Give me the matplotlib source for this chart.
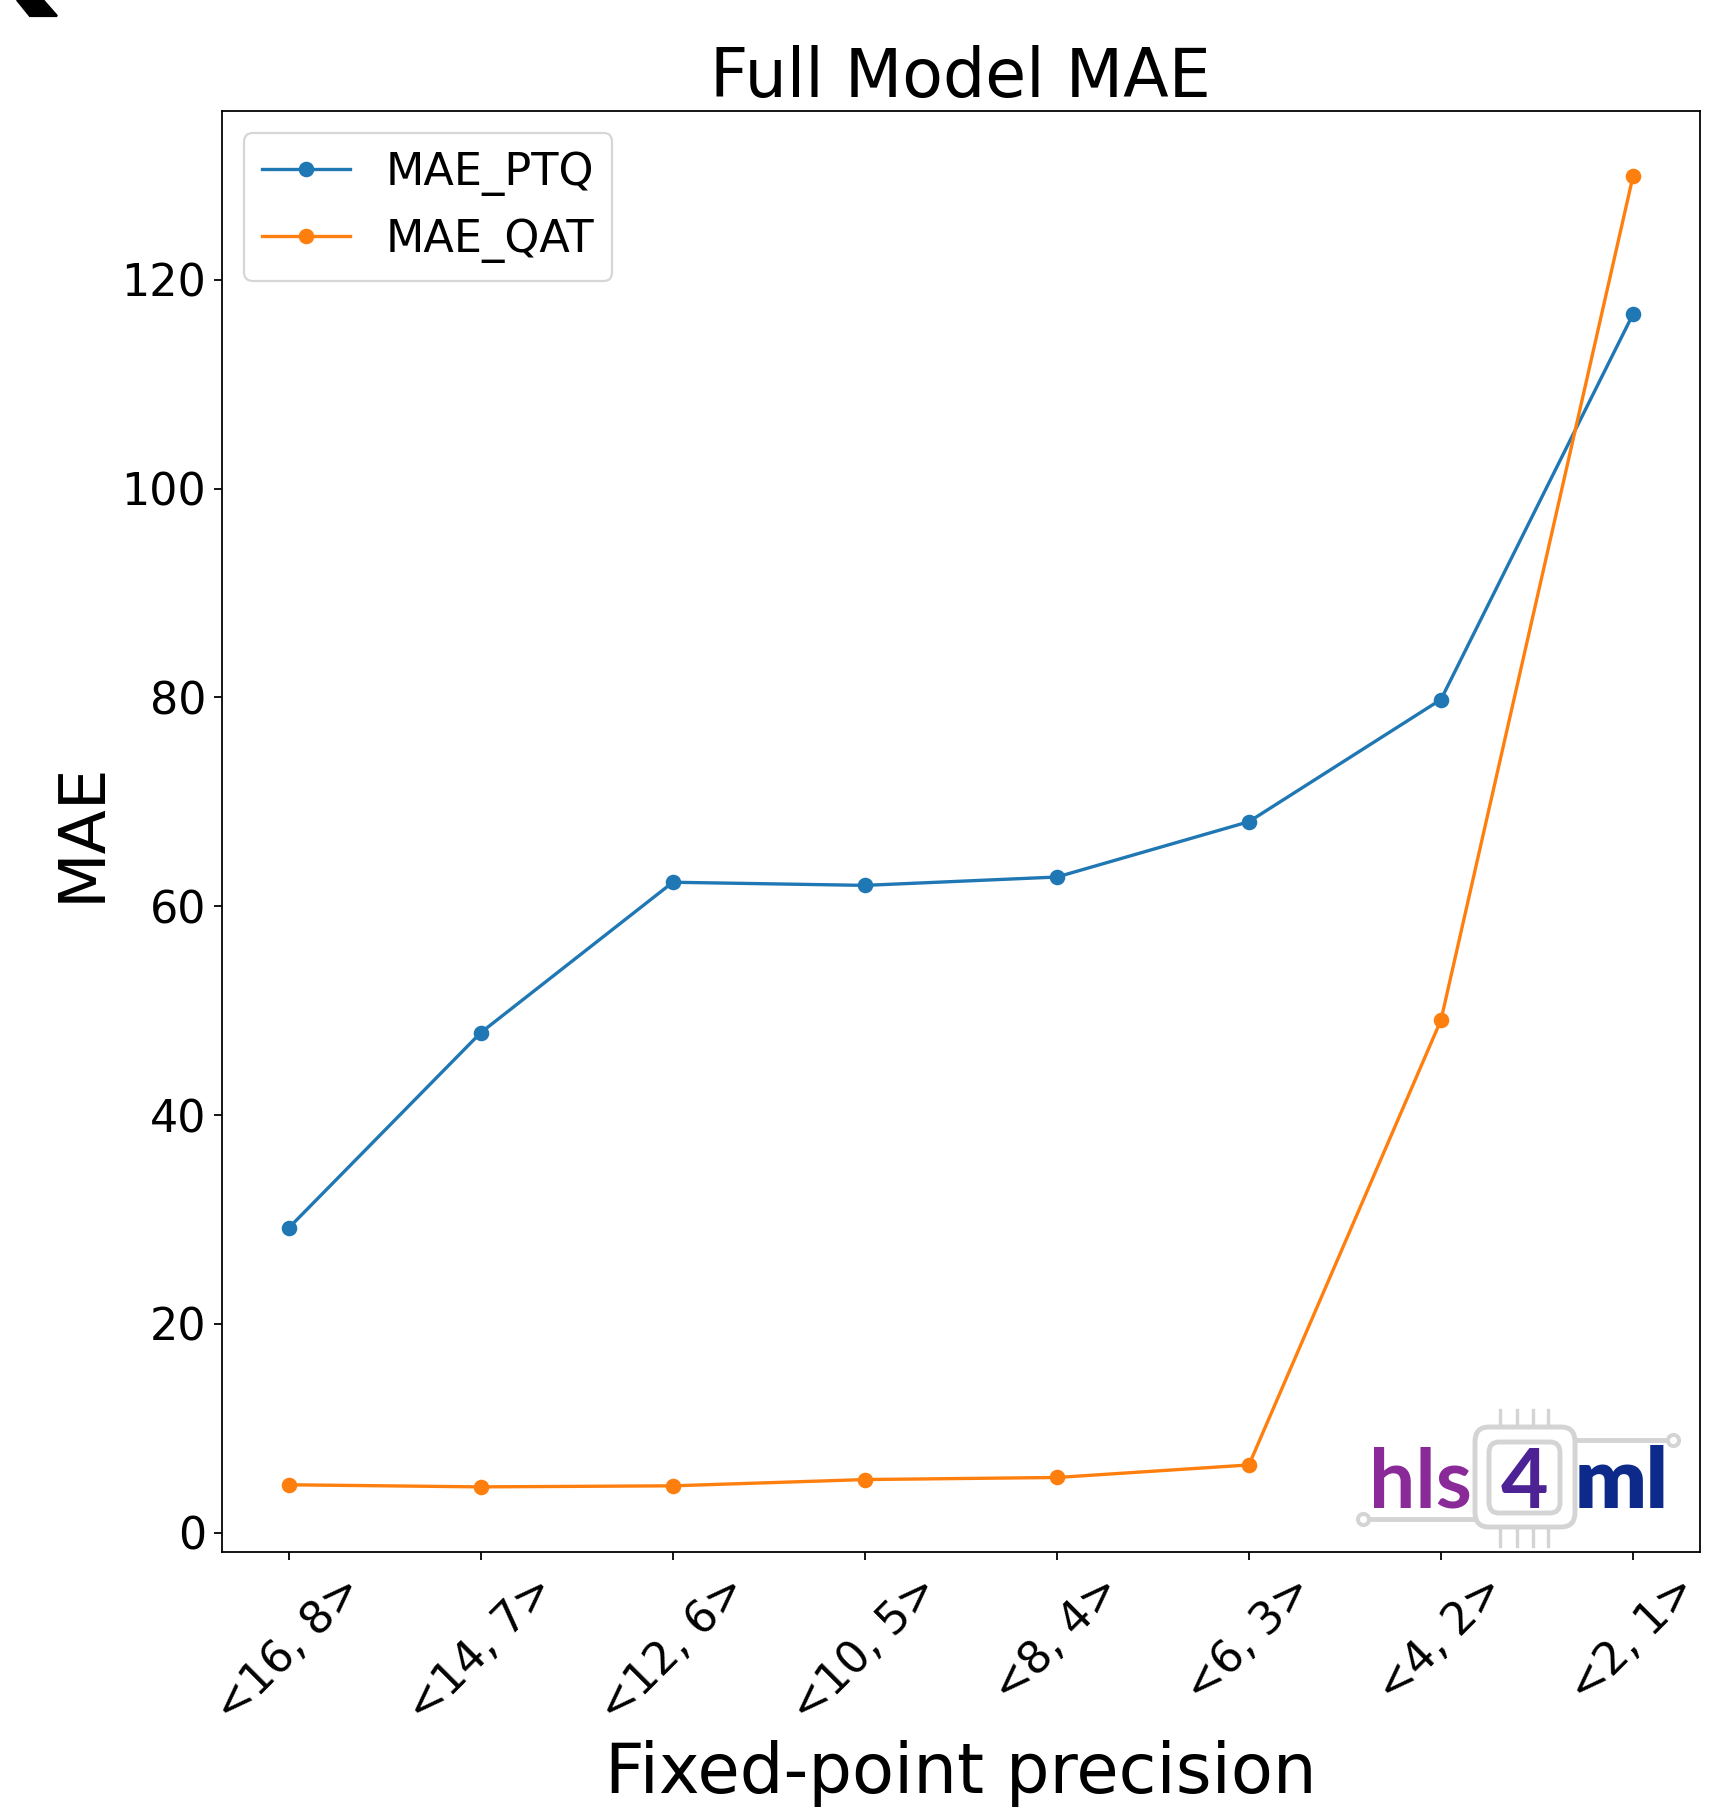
import matplotlib
matplotlib.use('Agg')
import matplotlib.pyplot as plt
from matplotlib.patches import Polygon, FancyBboxPatch
from matplotlib.lines import Line2D

precisions = ['<16, 8>', '<14, 7>', '<12, 6>', '<10, 5>', '<8, 4>', '<6, 3>', '<4, 2>', '<2, 1>']
mae_ptq = [29.2, 47.9, 62.3, 62.0, 62.8, 68.1, 79.8, 116.7]
mae_qat = [4.6, 4.4, 4.5, 5.1, 5.3, 6.5, 49.1, 129.9]

W, H, DPI = 1729, 1810, 160
fig = plt.figure(figsize=(W / DPI, H / DPI), dpi=DPI)
ax = fig.add_axes([221.6 / W, 1 - 1552.4 / H, (1700.2 - 221.6) / W, (1552.4 - 110.8) / H])

x = range(len(precisions))
ax.plot(x, mae_ptq, marker='o', label='MAE_PTQ')
ax.plot(x, mae_qat, marker='o', label='MAE_QAT')
ax.set_xticks(list(x))
ax.set_xticklabels(precisions, rotation=45)
ax.tick_params(labelsize=20)
ax.set_title('Full Model MAE', fontsize=30)
ax.set_xlabel('Fixed-point precision', fontsize=31)
ax.set_ylabel('MAE', fontsize=29)
ax.legend(loc='upper left', fontsize=20)


# helpers: figure pixel coords (origin top-left) -> figure fraction
def fx(p):
    return p / W


def fy(p):
    return 1 - p / H


# stray black shape in the top-left corner
fig.patches.append(Polygon([(fx(17), fy(0)), (fx(43), fy(0)), (fx(57), fy(16)), (fx(30), fy(16))],
                           closed=True, color='black', transform=fig.transFigure))

# hls4ml logo
grey = '#d4d4d4'
for (x0, y0, x1, y1, r) in [(1475, 1427, 1575, 1527, 14), (1489, 1442, 1560, 1513, 10)]:
    fig.patches.append(FancyBboxPatch((fx(x0), fy(y1)), fx(x1) - fx(x0), fy(y0) - fy(y1),
                                      boxstyle='round,pad=0,rounding_size=%f' % (r / W),
                                      fc='white' if r == 14 else 'none', ec=grey, lw=2.2,
                                      transform=fig.transFigure))
for px in [1500, 1517, 1533, 1548]:
    fig.lines.append(Line2D([fx(px), fx(px)], [fy(1410), fy(1425)], color=grey, lw=1.5,
                            transform=fig.transFigure))
    fig.lines.append(Line2D([fx(px), fx(px)], [fy(1530), fy(1546)], color=grey, lw=1.5,
                            transform=fig.transFigure))
fig.lines.append(Line2D([fx(1368), fx(1474)], [fy(1519), fy(1519)], color=grey, lw=2.2,
                        transform=fig.transFigure))
fig.lines.append(Line2D([fx(1577), fx(1668)], [fy(1440), fy(1440)], color=grey, lw=2.2,
                        transform=fig.transFigure))
for cx, cy in [(1363, 1519), (1673, 1440)]:
    fig.lines.append(Line2D([fx(cx)], [fy(cy)], marker='o', ms=5, mfc='white', mec=grey, mew=1.8,
                            transform=fig.transFigure))
fig.text(fx(1420), fy(1508), 'hls', fontsize=37, fontweight='bold', family='Lato',
         color='#8a2a98', ha='center', va='baseline')
fig.text(fx(1525), fy(1508), '4', fontsize=37, fontweight='bold', family='Lato',
         color='#4c2294', ha='center', va='baseline')
fig.text(fx(1622), fy(1508), 'ml', fontsize=38, fontweight='heavy', family='Lato',
         color='#0d2a8a', ha='center', va='baseline')

fig.savefig('out.png', dpi=DPI)
